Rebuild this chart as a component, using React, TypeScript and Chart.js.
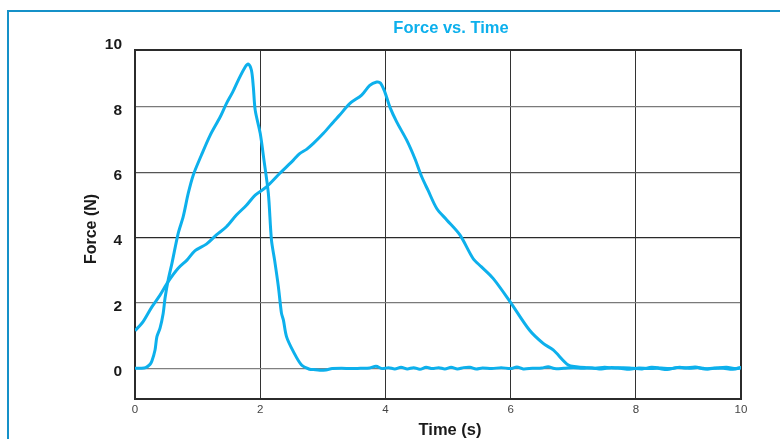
import React, { useEffect, useRef } from 'react';
import { Chart, registerables } from 'chart.js';

Chart.register(...registerables);

const FONT = '"Liberation Sans", Arial, Helvetica, sans-serif';
const CYAN = '#0db0ec';

// Axis ranges (plot frame is clipped a bit below the nominal 10 ends)
const X_MIN = 0;
const X_MAX = 9.68;
const Y_MIN = -0.94;
const Y_MAX = 9.74;

const xTickValues = [0, 2, 4, 6, 8, 9.68];
const xTickLabels = ['0', '2', '4', '6', '8', '10'];
const yTickValues = [0, 2, 4, 6, 8];
const yExtraTick = 10;

const chartTitle = 'Force vs. Time';
const xTitle = 'Time (s)';
const yTitle = 'Force (N)';

// Series A: short sharp pulse
const timeA = [
  0, 0.1, 0.17, 0.24, 0.27, 0.32, 0.35, 0.4, 0.45, 0.48, 0.53, 0.59, 0.69, 0.77, 0.85, 0.93,
  1.06, 1.2, 1.36, 1.46, 1.56, 1.65, 1.76, 1.81, 1.86, 1.89, 1.92, 2.0, 2.06, 2.13, 2.18,
  2.23, 2.29, 2.34, 2.37, 2.42, 2.53, 2.66, 2.79,
  2.85, 2.95, 3.05, 3.15, 3.3, 3.45, 3.6, 3.75, 3.85, 3.95, 4.05, 4.15, 4.25, 4.35, 4.45,
  4.55, 4.65, 4.75, 4.85, 4.95, 5.05, 5.15, 5.25, 5.35, 5.45, 5.55, 5.7, 5.85, 6.0, 6.1,
  6.2, 6.35, 6.5, 6.6, 6.7, 6.85, 7.0, 7.15, 7.3, 7.45, 7.6, 7.75, 7.9, 8.05, 8.2, 8.35,
  8.5, 8.65, 8.8, 8.95, 9.1, 9.25, 9.4, 9.55, 9.7,
];
const forceA = [
  0, 0, 0.02, 0.12, 0.22, 0.56, 0.97, 1.23, 1.68, 2.15, 2.7, 3.21, 4.13, 4.64, 5.35, 5.91,
  6.52, 7.13, 7.69, 8.1, 8.45, 8.82, 9.22, 9.31, 9.12, 8.61, 7.9, 7.19, 6.37, 5.35, 3.92,
  3.31, 2.5, 1.68, 1.48, 0.97, 0.51, 0.1, -0.03,
  -0.04, -0.06, -0.05, -0.01, 0.0, -0.01, 0.0, 0.01, 0.06, -0.01, 0.02, -0.02, 0.03, -0.02, 0.02,
  -0.03, 0.03, -0.01, 0.02, -0.02, 0.03, -0.02, 0.02, 0.03, -0.02, 0.01, -0.01, 0.02, -0.01, 0.04,
  -0.02, 0.0, 0.01, 0.05, -0.01, 0.0, 0.02, 0.0, 0.01, -0.02, 0.02, 0.0, -0.03, 0.01, -0.01, 0.0,
  -0.04, 0.02, 0.01, 0.04, -0.02, 0.01, 0.0, -0.03, 0.03,
];

// Series B: slower, broader push
const timeB = [
  0, 0.13, 0.27, 0.4, 0.53, 0.69, 0.83, 0.96, 1.14, 1.3, 1.46, 1.62, 1.78, 1.92, 2.1, 2.31,
  2.53, 2.63, 2.74, 2.85, 3.01, 3.17, 3.27, 3.43, 3.62, 3.75, 3.86, 3.92, 3.99, 4.07, 4.18,
  4.34, 4.47, 4.58, 4.68, 4.82, 4.98, 5.19, 5.4, 5.53, 5.72, 5.99, 6.3, 6.52, 6.68, 6.92,
  7.05, 7.2, 7.35, 7.5, 7.65, 7.8, 7.95, 8.1, 8.25, 8.4, 8.55, 8.7, 8.85, 9.0, 9.15, 9.3,
  9.45, 9.6, 9.7,
];
const forceB = [
  1.15, 1.43, 1.88, 2.24, 2.65, 3.06, 3.31, 3.6, 3.8, 4.08, 4.33, 4.69, 4.99, 5.3, 5.55, 5.96,
  6.37, 6.57, 6.7, 6.88, 7.19, 7.54, 7.75, 8.1, 8.36, 8.66, 8.76, 8.73, 8.46, 8.0, 7.54,
  6.98, 6.42, 5.86, 5.45, 4.89, 4.54, 4.08, 3.36, 3.11, 2.75, 2.04, 1.17, 0.76, 0.56, 0.1,
  0.05, 0.02, 0.0, 0.03, 0.01, 0.02, 0.0, -0.02, 0.03, 0.01, -0.01, 0.03, 0.0, 0.02, -0.02, 0.01,
  0.03, -0.01, 0.03,
];

const hGridColors: Record<number, string> = { 0: '#808080', 2: '#7a7a7a', 4: '#2a2a2a', 6: '#555555', 8: '#7a7a7a' };

export default function App() {
  const canvasRef = useRef<HTMLCanvasElement | null>(null);

  useEffect(() => {
    const canvas = canvasRef.current;
    if (!canvas) return;

    const textPlugin = {
      id: 'textPlugin',
      beforeDatasetsDraw(chart: any) {
        const { ctx, chartArea } = chart;
        ctx.save();
        ctx.strokeStyle = '#2b2b2b';
        ctx.lineWidth = 2;
        ctx.strokeRect(chartArea.left, chartArea.top, chartArea.right - chartArea.left, chartArea.bottom - chartArea.top);
        ctx.restore();
      },
      afterDraw(chart: any) {
        const { ctx, chartArea } = chart;
        const yScale = chart.scales.y;
        ctx.save();
        // extra y label "10" above the clipped frame
        ctx.font = `bold 15.5px ${FONT}`;
        ctx.fillStyle = '#1a1a1a';
        ctx.textAlign = 'right';
        ctx.textBaseline = 'middle';
        ctx.fillText(String(yExtraTick), chartArea.left - 13, yScale.getPixelForValue(yExtraTick) + 3.5);

        // chart title
        ctx.font = `bold 16.5px ${FONT}`;
        ctx.fillStyle = CYAN;
        ctx.textAlign = 'center';
        ctx.textBaseline = 'middle';
        ctx.fillText(chartTitle, 451, 28);

        // x title
        ctx.font = `bold 16.5px ${FONT}`;
        ctx.fillStyle = '#1a1a1a';
        ctx.fillText(xTitle, 450, 430);

        // y title
        ctx.translate(91.5, 229);
        ctx.rotate(-Math.PI / 2);
        ctx.font = `bold 16px ${FONT}`;
        ctx.fillText(yTitle, 0, 0);
        ctx.restore();
      },
    };

    const chart = new Chart(canvas, {
      type: 'line',
      data: {
        datasets: [
          {
            label: 'A',
            data: timeA.map((t, i) => ({ x: t, y: forceA[i] })),
            borderColor: CYAN,
            borderWidth: 3,
            pointRadius: 0,
            tension: 0.3,
            fill: false,
          },
          {
            label: 'B',
            data: timeB.map((t, i) => ({ x: t, y: forceB[i] })),
            borderColor: CYAN,
            borderWidth: 3,
            pointRadius: 0,
            tension: 0.3,
            fill: false,
          },
        ],
      },
      options: {
        responsive: false,
        animation: false,
        devicePixelRatio: 1,
        layout: { padding: { top: 50, right: 39, left: 0, bottom: 0 } },
        plugins: {
          legend: { display: false },
          title: { display: false },
          tooltip: { enabled: false },
        },
        scales: {
          x: {
            type: 'linear',
            min: X_MIN,
            max: X_MAX,
            afterBuildTicks: (scale: any) => {
              scale.ticks = xTickValues.map((v) => ({ value: v }));
            },
            afterFit: (scale: any) => {
              scale.height = 40;
            },
            border: { display: false },
            grid: { color: '#333333', lineWidth: 1, drawTicks: false },
            ticks: {
              padding: 4,
              color: '#444444',
              font: { family: FONT, size: 11.5 },
              maxRotation: 0,
              autoSkip: false,
              callback: (_v: any, i: number) => xTickLabels[i],
            },
          },
          y: {
            type: 'linear',
            min: Y_MIN,
            max: Y_MAX,
            afterBuildTicks: (scale: any) => {
              scale.ticks = yTickValues.map((v) => ({ value: v }));
            },
            afterFit: (scale: any) => {
              scale.width = 135;
            },
            border: { display: false },
            grid: {
              color: (ctx: any) => hGridColors[ctx.tick?.value] ?? '#777777',
              lineWidth: 1.3,
              drawTicks: false,
            },
            ticks: {
              padding: 13,
              labelOffset: 3.5,
              color: '#1a1a1a',
              font: { family: FONT, size: 15.5, weight: 'bold' },
              autoSkip: false,
              callback: (v: any) => String(v),
            },
          },
        },
      },
      plugins: [textPlugin],
    });

    return () => chart.destroy();
  }, []);

  return (
    <>
      <div
        style={{
          position: 'fixed',
          left: 7,
          top: 10,
          right: 0,
          bottom: 0,
          borderLeft: '2px solid #1591c8',
          borderTop: '2.5px solid #1591c8',
        }}
      />
      <canvas
        ref={canvasRef}
        width={780}
        height={439}
        style={{ position: 'fixed', left: 0, top: 0, width: 780, height: 439, display: 'block' }}
      />
    </>
  );
}
